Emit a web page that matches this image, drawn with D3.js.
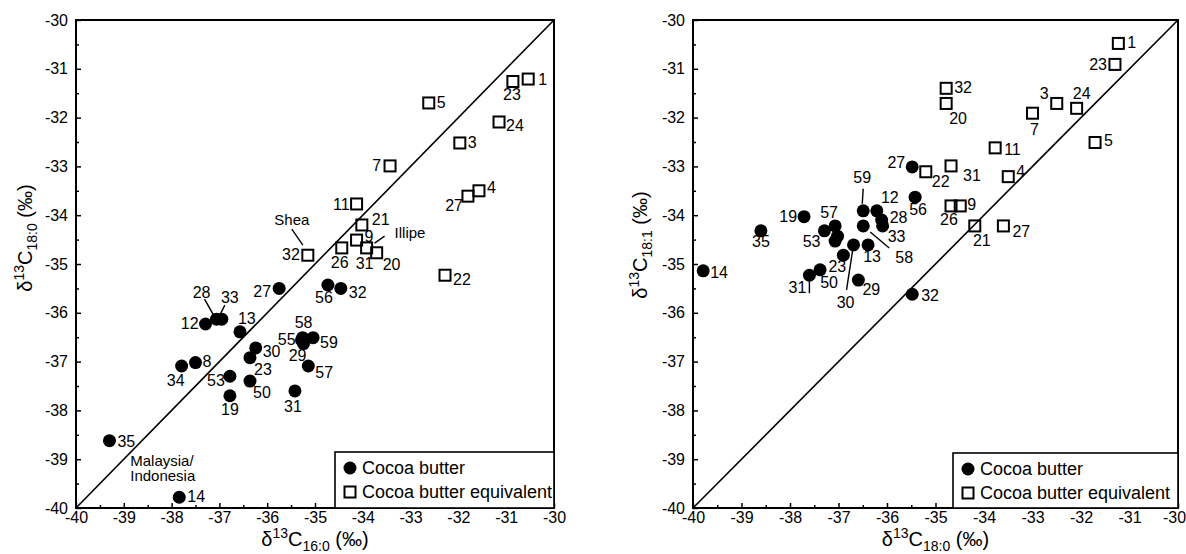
<!DOCTYPE html>
<html>
<head>
<meta charset="UTF-8" />
<title>d13C cocoa butter</title>
<script src="https://d3js.org/d3.v7.min.js"></script>
<style>
  body { margin: 0; background: #fff; }
  svg text { font-family: "Liberation Sans", Arial, sans-serif; fill: #000; }
</style>
</head>
<body>
<div id="chart"></div>
<script>
// ---------- data ----------
// left panel: d13C 16:0 (x) vs d13C 18:0 (y)
const leftCbIds = ["27","28","33","12","13","30","23","34","8","53","50","19","31","35","14","56","32","58","55","29","59","57"];
const leftCbX = [-35.75,-37.06,-36.95,-37.29,-36.57,-36.24,-36.36,-37.79,-37.50,-36.78,-36.36,-36.78,-35.42,-39.30,-37.84,-34.73,-34.46,-35.26,-35.28,-35.24,-35.04,-35.14];
const leftCbY = [-35.50,-36.13,-36.13,-36.23,-36.39,-36.72,-36.92,-37.09,-37.02,-37.30,-37.40,-37.70,-37.60,-38.62,-39.78,-35.43,-35.50,-36.51,-36.56,-36.63,-36.51,-37.09];

const leftCbeIds = ["1","23","5","24","3","7","4","27","11","21","9","26","31","20","32","22"];
const leftCbeX = [-30.54,-30.86,-32.62,-31.15,-31.97,-33.43,-31.57,-31.80,-34.13,-34.02,-34.13,-34.44,-33.92,-33.71,-35.15,-32.28];
const leftCbeY = [-31.21,-31.26,-31.70,-32.09,-32.52,-32.99,-33.50,-33.61,-33.77,-34.20,-34.51,-34.67,-34.67,-34.77,-34.82,-35.23];

// right panel: d13C 18:0 (x) vs d13C 18:1 (y)
const rightCbIds = ["27","56","32","14","35","19","57","53","","","59","12","28","33","58","13","30","23","50","31","29"];
const rightCbX = [-35.48,-35.42,-35.48,-39.79,-38.60,-37.71,-37.07,-37.29,-37.02,-37.07,-36.49,-36.21,-36.11,-36.09,-36.49,-36.39,-36.69,-36.90,-37.38,-37.60,-36.59];
const rightCbY = [-33.01,-33.63,-35.62,-35.14,-34.32,-34.03,-34.22,-34.32,-34.43,-34.53,-33.91,-33.91,-34.10,-34.22,-34.22,-34.61,-34.61,-34.82,-35.12,-35.23,-35.33];

const rightCbeIds = ["1","23","32","20","3","24","7","5","11","4","22","31","26","9","21","27"];
const rightCbeX = [-31.23,-31.30,-34.78,-34.78,-32.50,-32.09,-33.00,-31.71,-33.77,-33.50,-35.20,-34.68,-34.68,-34.49,-34.19,-33.60];
const rightCbeY = [-30.48,-30.91,-31.40,-31.71,-31.71,-31.81,-31.91,-32.51,-32.62,-33.21,-33.11,-32.99,-33.81,-33.81,-34.22,-34.22];

const axisDomain = [-40, -30];
const majorTicks = [-40,-39,-38,-37,-36,-35,-34,-33,-32,-31,-30];
const tickLabels = ["-40","-39","-38","-37","-36","-35","-34","-33","-32","-31","-30"];
const minorTicks = [-39.5,-38.5,-37.5,-36.5,-35.5,-34.5,-33.5,-32.5,-31.5,-30.5];
const legendLabels = ["Cocoa butter", "Cocoa butter equivalent"];

// ---------- label layout (pixel offsets from the marker: dx, dy, anchor) ----------
const leftCbLab = [[-8,9,"end"],[-15,-21,"middle"],[8,-16,"middle"],[-7,5,"end"],[-2,-8,"start"],[7,9,"start"],[4,17,"start"],[-6,20,"middle"],[7,4,"start"],[-5,10,"end"],[3,17,"start"],[0,19,"middle"],[-2,21,"middle"],[8,6,"start"],[8,5,"start"],[-4,18,"middle"],[8,10,"start"],[1,-10,"middle"],[-6,5,"end"],[-6,17,"middle"],[7,10,"start"],[7,12,"start"]];
const leftCbeLab = [[10,6,"start"],[-1,19,"middle"],[8,5,"start"],[7,9,"start"],[8,5,"start"],[-9,5,"end"],[8,2,"start"],[-5,15,"end"],[-7,6,"end"],[10,0,"start"],[8,2,"start"],[-2,20,"middle"],[-2,21,"middle"],[6,17,"start"],[-8,5,"end"],[8,10,"start"]];
const rightCbLab = [[-7,1,"end"],[3,18,"middle"],[9,7,"start"],[7,7,"start"],[0,16,"middle"],[-7,5,"end"],[-6,-8,"middle"],[-4,16,"end"],[0,0,"start"],[0,0,"start"],[-1,-28,"middle"],[13,-8,"middle"],[8,3,"start"],[5,16,"start"],[32,37,"start"],[4,17,"middle"],[-8,63,"middle"],[-6,17,"middle"],[9,18,"middle"],[-3,18,"end"],[4,15,"start"]];
const rightCbeLab = [[9,5,"start"],[-8,6,"end"],[8,5,"start"],[3,21,"start"],[-8,-4,"end"],[5,-9,"middle"],[2,22,"middle"],[9,4,"start"],[9,7,"start"],[8,0,"start"],[6,15,"start"],[12,15,"start"],[-2,19,"middle"],[7,4,"start"],[7,20,"middle"],[9,11,"start"]];

const panels = [
  {
    x0: 76, x1: 554, y0: 20, y1: 508,
    xSub: "16:0", ySub: "18:0", yTitleY: 238, yTitleX: 32,
    cb: { ids: leftCbIds, x: leftCbX, y: leftCbY, lab: leftCbLab },
    cbe: { ids: leftCbeIds, x: leftCbeX, y: leftCbeY, lab: leftCbeLab },
    legend: [335, 452],
    lastTickShift: 0,
    // leader lines: [series, index, dx1, dy1, dx2, dy2]
    leaders: [["cbe",14,-16,-26,-5,-10],["cbe",10,18,3,28,-4],["cb",1,-12,-20,-3,-4],["cb",2,3,-14,-2,-4]],
    // notes: [series, index, dx, dy, text, anchor]
    notes: [["cbe",14,-16,-30,"Shea","middle"],["cbe",10,38,-2,"Illipe","start"],["cb",14,-49,-31,"Malaysia/","start"],["cb",14,-49,-16,"Indonesia","start"]]
  },
  {
    x0: 693, x1: 1178, y0: 20, y1: 508,
    xSub: "18:0", ySub: "18:1", yTitleY: 245, yTitleX: 647,
    cb: { ids: rightCbIds, x: rightCbX, y: rightCbY, lab: rightCbLab },
    cbe: { ids: rightCbeIds, x: rightCbeX, y: rightCbeY, lab: rightCbeLab },
    legend: [953, 453],
    lastTickShift: -4,
    leaders: [["cb",10,0,-22,-1,-7],["cb",14,7,6,26,22],["cb",16,-1,6,-7,45],["cb",19,0,6,0,18]],
    notes: []
  }
];

// ---------- draw ----------
const svg = d3.select("#chart")
  .append("svg")
  .attr("width", 1186)
  .attr("height", 554);

function titleText(g, sub) {
  // δ13C<sub> (‰)
  g.append("tspan").text("δ");
  g.append("tspan").attr("font-size", 14).attr("dy", -8).text("13");
  g.append("tspan").attr("dy", 8).text("C");
  g.append("tspan").attr("font-size", 14).attr("dy", 5).text(sub);
  g.append("tspan").attr("dy", -5).text(" (‰)");
}

panels.forEach(p => {
  const x = d3.scaleLinear().domain(axisDomain).range([p.x0, p.x1]);
  const y = d3.scaleLinear().domain(axisDomain).range([p.y1, p.y0]);
  const g = svg.append("g");

  // minor ticks
  g.append("g")
    .attr("transform", "translate(0," + p.y1 + ")")
    .call(d3.axisBottom(x).tickValues(minorTicks).tickSize(-3).tickFormat(""))
    .call(a => a.select(".domain").remove());
  g.append("g")
    .attr("transform", "translate(" + p.x0 + ",0)")
    .call(d3.axisLeft(y).tickValues(minorTicks).tickSize(-3).tickFormat(""))
    .call(a => a.select(".domain").remove());

  // major ticks + labels
  const xAxis = g.append("g")
    .attr("transform", "translate(0," + p.y1 + ")")
    .call(d3.axisBottom(x).tickValues(majorTicks).tickSizeInner(-5).tickSizeOuter(0)
      .tickPadding(4).tickFormat((d, i) => tickLabels[i]));
  xAxis.select(".domain").remove();
  xAxis.selectAll("text").attr("font-size", 16).attr("font-family", "Liberation Sans, Arial, sans-serif");
  xAxis.selectAll("text").filter(d => d === -30).attr("dx", p.lastTickShift);

  const yAxis = g.append("g")
    .attr("transform", "translate(" + p.x0 + ",0)")
    .call(d3.axisLeft(y).tickValues(majorTicks).tickSizeInner(-5).tickSizeOuter(0)
      .tickPadding(8).tickFormat((d, i) => tickLabels[i]));
  yAxis.select(".domain").remove();
  yAxis.selectAll("text").attr("font-size", 16).attr("font-family", "Liberation Sans, Arial, sans-serif");

  g.selectAll(".tick line").attr("stroke", "#000").attr("stroke-width", 1.5);

  // frame
  g.append("rect")
    .attr("x", p.x0).attr("y", p.y0)
    .attr("width", p.x1 - p.x0).attr("height", p.y1 - p.y0)
    .attr("fill", "none").attr("stroke", "#000").attr("stroke-width", 2);

  // 1:1 line
  g.append("line")
    .attr("x1", x(-40)).attr("y1", y(-40))
    .attr("x2", x(-30)).attr("y2", y(-30))
    .attr("stroke", "#000").attr("stroke-width", 1.6);

  const pos = (s, i) => [x(p[s].x[i]), y(p[s].y[i])];

  // leaders
  p.leaders.forEach(l => {
    const c = pos(l[0], l[1]);
    g.append("line")
      .attr("x1", c[0] + l[2]).attr("y1", c[1] + l[3])
      .attr("x2", c[0] + l[4]).attr("y2", c[1] + l[5])
      .attr("stroke", "#000").attr("stroke-width", 1.4);
  });

  // cocoa butter equivalent: open squares
  const cbeData = p.cbe.ids.map((id, i) => ({ id, x: p.cbe.x[i], y: p.cbe.y[i], lab: p.cbe.lab[i] }));
  g.selectAll("rect.cbe")
    .data(cbeData)
    .enter()
    .append("rect")
    .attr("class", "cbe")
    .attr("x", d => x(d.x) - 5.5)
    .attr("y", d => y(d.y) - 5.5)
    .attr("width", 11).attr("height", 11)
    .attr("fill", "none")
    .attr("stroke", "#000").attr("stroke-width", 2);

  // cocoa butter: filled circles
  const cbData = p.cb.ids.map((id, i) => ({ id, x: p.cb.x[i], y: p.cb.y[i], lab: p.cb.lab[i] }));
  g.selectAll("circle.cb")
    .data(cbData)
    .enter()
    .append("circle")
    .attr("class", "cb")
    .attr("cx", d => x(d.x))
    .attr("cy", d => y(d.y))
    .attr("r", 6.5)
    .attr("fill", "#000");

  // point labels
  g.selectAll("text.plab")
    .data(cbeData.concat(cbData).filter(d => d.id !== ""))
    .enter()
    .append("text")
    .attr("class", "plab")
    .attr("x", d => x(d.x) + d.lab[0])
    .attr("y", d => y(d.y) + d.lab[1])
    .attr("text-anchor", d => d.lab[2])
    .attr("font-size", 16)
    .text(d => d.id);

  // notes
  p.notes.forEach(n => {
    const c = pos(n[0], n[1]);
    g.append("text")
      .attr("x", c[0] + n[2]).attr("y", c[1] + n[3])
      .attr("text-anchor", n[5])
      .attr("font-size", 15)
      .text(n[4]);
  });

  // legend
  const lx = p.legend[0], ly = p.legend[1];
  g.append("rect")
    .attr("x", lx).attr("y", ly)
    .attr("width", p.x1 - lx).attr("height", p.y1 - ly)
    .attr("fill", "#fff").attr("stroke", "#000").attr("stroke-width", 1.6);
  g.append("circle").attr("cx", lx + 15).attr("cy", ly + 16).attr("r", 6.5).attr("fill", "#000");
  g.append("rect").attr("x", lx + 9.5).attr("y", ly + 34.5).attr("width", 11).attr("height", 11)
    .attr("fill", "none").attr("stroke", "#000").attr("stroke-width", 2);
  g.append("text").attr("x", lx + 27).attr("y", ly + 22).attr("font-size", 18).text(legendLabels[0]);
  g.append("text").attr("x", lx + 27).attr("y", ly + 46).attr("font-size", 18).text(legendLabels[1]);

  // axis titles
  const xt = g.append("text")
    .attr("x", (p.x0 + p.x1) / 2).attr("y", 546)
    .attr("text-anchor", "middle").attr("font-size", 20);
  titleText(xt, p.xSub);

  const yt = g.append("text")
    .attr("transform", "translate(" + p.yTitleX + "," + p.yTitleY + ") rotate(-90)")
    .attr("text-anchor", "middle").attr("font-size", 20);
  titleText(yt, p.ySub);
});
</script>
</body>
</html>
